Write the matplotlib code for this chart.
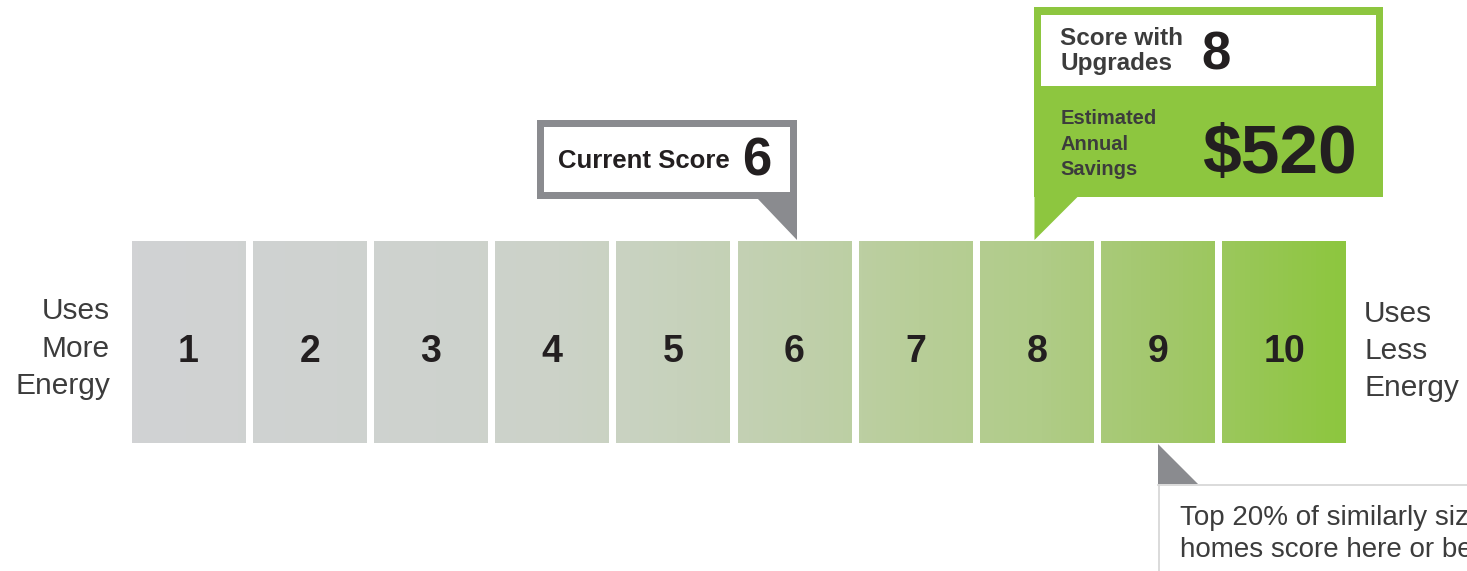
import numpy as np
import matplotlib
matplotlib.use("Agg")
import matplotlib.pyplot as plt
from matplotlib.patches import Rectangle, Polygon
from matplotlib.colors import LinearSegmentedColormap

# data
scores = [1, 2, 3, 4, 5, 6, 7, 8, 9, 10]
current_score = 6
upgrade_score = 8
annual_savings = 520
top20_score = 9
left_label = ["Uses", "More", "Energy"]
right_label = ["Uses", "Less", "Energy"]
top20_lines = ["Top 20% of similarly sized", "homes score here or better"]

plt.rcParams['font.family'] = ['Liberation Sans', 'DejaVu Sans']

GRAY = "#8a8b8f"
GREEN = "#8dc63f"
DARK = "#231f20"
TEXT = "#3c3c3c"

# gray -> green ramp along the scale
ramp = LinearSegmentedColormap.from_list("ramp", [
    (0.00, (209/255, 210/255, 212/255)),
    (0.25, (206/255, 210/255, 206/255)),
    (0.35, (204/255, 210/255, 200/255)),
    (0.45, (199/255, 210/255, 188/255)),
    (0.55, (192/255, 208/255, 172/255)),
    (0.65, (184/255, 206/255, 152/255)),
    (0.75, (176/255, 204/255, 136/255)),
    (0.85, (163/255, 200/255, 108/255)),
    (1.00, (141/255, 198/255, 63/255)),
])

fig = plt.figure(figsize=(14.67, 5.71), dpi=100)
ax = fig.add_axes([0, 0, 1, 1])
px = 1 / 121.2  # one pixel in score units
ax.axis("off")

# bars
top, bottom = 241, 443
widths = [0.94] * (len(scores) - 1) + [1.02]
lefts = [s - 0.47 for s in scores]
bars = ax.bar(lefts, bottom - top, bottom=top, width=widths, align="edge",
              color="none", edgecolor="none")
x0, x1 = lefts[0], lefts[-1] + widths[-1]
grad = np.linspace(0, 1, 400).reshape(1, -1)
for b, s in zip(bars, scores):
    im = ax.imshow(grad, cmap=ramp, extent=[x0, x1, bottom, top], aspect="auto",
                   interpolation="bilinear", zorder=1)
    im.set_clip_path(b)
    ax.text(b.get_x() + b.get_width() / 2, 362, str(s), ha="center", va="baseline",
            fontsize=27, fontweight="bold", color=DARK, zorder=3)

ax.set_xlim(1 - 188.5 * px, 1 + (1467 - 188.5) * px)
ax.set_ylim(571, 0)

# side labels
for line, y in zip(left_label, [319, 357, 394]):
    ax.text(1 - 78.5 * px, y, line, ha="right", va="baseline", fontsize=21.5, color=TEXT)
for line, y in zip(right_label, [322, 359, 396]):
    ax.text(1 + (1364 - 188.5) * px, y, line, ha="left", va="baseline", fontsize=21.5, color=TEXT)

# current score callout
cr = current_score + 0.02
ax.add_patch(Rectangle((cr - 260 * px, 120), 260 * px, 79, facecolor=GRAY, edgecolor="none", zorder=2))
ax.add_patch(Rectangle((cr - 253 * px, 127), 246 * px, 65, facecolor="white", edgecolor="none", zorder=2))
ax.add_patch(Polygon([(cr - 40 * px, 198), (cr, 198), (cr, 240)], closed=True,
                     facecolor=GRAY, edgecolor="none", zorder=2))
ax.text(cr - 239 * px, 168, "Current Score", ha="left", va="baseline", fontsize=18.5,
        fontweight="bold", color=DARK, zorder=3)
ax.text(cr - 55 * px, 176, str(current_score), ha="left", va="baseline", fontsize=38,
        fontweight="bold", color=DARK, zorder=3)

# upgrade callout
ul = upgrade_score - 0.02
ax.add_patch(Rectangle((ul, 7), 349 * px, 190, facecolor=GREEN, edgecolor="none", zorder=2))
ax.add_patch(Rectangle((ul + 7 * px, 15), 335 * px, 71, facecolor="white", edgecolor="none", zorder=2))
ax.add_patch(Polygon([(ul, 196), (ul + 44 * px, 196), (ul, 240)], closed=True,
                     facecolor=GREEN, edgecolor="none", zorder=2))
for line, y in zip(["Score with", "Upgrades"], [45, 70]):
    ax.text(ul + 26 * px, y, line, ha="left", va="baseline", fontsize=17.5,
            fontweight="bold", color=TEXT, zorder=3)
ax.text(ul + 167 * px, 70, str(upgrade_score), ha="left", va="baseline", fontsize=38,
        fontweight="bold", color=DARK, zorder=3)
for line, y in zip(["Estimated", "Annual", "Savings"], [124, 150, 175]):
    ax.text(ul + 26 * px, y, line, ha="left", va="baseline", fontsize=14.5,
            fontweight="bold", color=TEXT, zorder=3)
ax.text(ul + 168 * px, 173, "$" + str(annual_savings), ha="left", va="baseline", fontsize=50,
        fontweight="bold", color=DARK, zorder=3)

# top 20% callout
ax.add_patch(Polygon([(top20_score, 444), (top20_score, 484), (top20_score + 40 * px, 484)],
                     closed=True, facecolor=GRAY, edgecolor="none", zorder=2))
ax.plot([top20_score, 20], [485, 485], color="#d4d4d4", lw=1.2, zorder=1)
ax.plot([top20_score + px, top20_score + px], [485, 580], color="#d4d4d4", lw=1.2, zorder=1)
for line, y in zip(top20_lines, [525, 557]):
    ax.text(top20_score + 22 * px, y, line, ha="left", va="baseline", fontsize=20,
            color=TEXT, zorder=3)

fig.savefig("out.png", dpi=100)
